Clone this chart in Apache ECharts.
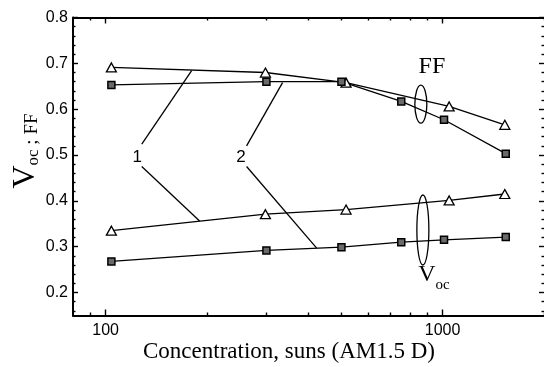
<!DOCTYPE html>
<html>
<head>
<meta charset="utf-8">
<script src="https://cdn.jsdelivr.net/npm/echarts@6/dist/echarts.min.js"></script>
<style>
  html, body { margin: 0; padding: 0; background: #fff; }
  #chart { width: 544px; height: 367px; }
</style>
</head>
<body>
<div id="chart"></div>
<script>
// Cell 1 (open triangles) and cell 2 (squares): concentration in suns
const conc1 = [104, 298, 517, 1046, 1530];
const ff1   = [0.691, 0.680, 0.658, 0.606, 0.566];
const voc1  = [0.335, 0.371, 0.381, 0.401, 0.415];

const conc2 = [104, 300, 501, 754, 1010, 1540];
const ff2   = [0.653, 0.660, 0.660, 0.617, 0.577, 0.503];
const voc2  = [0.268, 0.292, 0.299, 0.310, 0.315, 0.321];

// Axis ticks
const xMajor = [100, 1000];
const xMinor = [90, 200, 300, 400, 500, 600, 700, 800, 900, 2000];
const yMajor = [0.2, 0.3, 0.4, 0.5, 0.6, 0.7, 0.8];
const yMinor = [0.16, 0.18, 0.22, 0.24, 0.26, 0.28, 0.32, 0.34, 0.36, 0.38,
                0.42, 0.44, 0.46, 0.48, 0.52, 0.54, 0.56, 0.58, 0.62, 0.64,
                0.66, 0.68, 0.72, 0.74, 0.76, 0.78];

const pairs = (xs, ys) => xs.map((x, i) => [x, ys[i]]);

const sans = 'Liberation Sans, Arial, sans-serif';
const serif = 'Liberation Serif, Times New Roman, serif';

function xAxisDef(position, ticks, len, withLabels, showLine) {
  return {
    type: 'log', logBase: 10, min: 80, max: 2000, position: position,
    axisLine: { show: showLine, lineStyle: { color: '#000', width: 2 } },
    axisTick: { show: true, inside: true, length: len, customValues: ticks,
                lineStyle: { color: '#000', width: 1.4 } },
    axisLabel: withLabels
      ? { show: true, customValues: ticks, color: '#000', fontSize: 16,
          fontFamily: sans, margin: 7,
          formatter: v => String(v).replace(/,/g, '') }
      : { show: false },
    splitLine: { show: false }
  };
}

function yAxisDef(position, ticks, len, withLabels, showLine) {
  return {
    type: 'value', min: 0.15, max: 0.8, position: position,
    axisLine: { show: showLine, onZero: false, lineStyle: { color: '#000', width: 2 } },
    axisTick: { show: true, inside: true, length: len, customValues: ticks,
                lineStyle: { color: '#000', width: 1.4 } },
    axisLabel: withLabels
      ? { show: true, customValues: ticks, color: '#000', fontSize: 16,
          fontFamily: sans, margin: 5, formatter: v => v.toFixed(1) }
      : { show: false },
    splitLine: { show: false }
  };
}

const lineStyle = { color: '#000', width: 1.3 };
const triItem = { color: '#fff', borderColor: '#000', borderWidth: 1.3 };
const sqItem = { color: '#6a6a6a', borderColor: '#000', borderWidth: 1.5 };

const chart = echarts.init(document.getElementById('chart'), null, { renderer: 'canvas' });

chart.setOption({
  animation: false,
  backgroundColor: '#fff',
  grid: { left: 73, right: 0, top: 17.5, height: 298 },
  xAxis: [
    xAxisDef('bottom', xMajor, 6, true, true),
    xAxisDef('bottom', xMinor, 3, false, false),
    xAxisDef('top', xMajor, 6, false, true),
    xAxisDef('top', xMinor, 3, false, false)
  ],
  yAxis: [
    yAxisDef('left', yMajor, 5, true, true),
    yAxisDef('left', yMinor, 2.5, false, false),
    yAxisDef('right', yMajor, 5, false, false),
    yAxisDef('right', yMinor, 2.5, false, false)
  ],
  series: [
    { name: 'FF 1', type: 'line', data: pairs(conc1, ff1), symbol: 'triangle',
      symbolSize: [10, 9], itemStyle: triItem, lineStyle: lineStyle, z: 3 },
    { name: 'Voc 1', type: 'line', data: pairs(conc1, voc1), symbol: 'triangle',
      symbolSize: [10, 9], itemStyle: triItem, lineStyle: lineStyle, z: 3 },
    { name: 'FF 2', type: 'line', data: pairs(conc2, ff2), symbol: 'rect',
      symbolSize: 7, itemStyle: sqItem, lineStyle: lineStyle, z: 3 },
    { name: 'Voc 2', type: 'line', data: pairs(conc2, voc2), symbol: 'rect',
      symbolSize: 7, itemStyle: sqItem, lineStyle: lineStyle, z: 3 }
  ]
});

// Annotations anchored in data coordinates (concentration, value)
const leaders = [
  [[128, 0.524], [180, 0.684]],
  [[128, 0.475], [190, 0.356]],
  [[262, 0.520], [335, 0.658]],
  [[262, 0.475], [423, 0.297]]
];
const numberLabels = [
  { text: '1', at: [124, 0.496] },
  { text: '2', at: [252, 0.496] }
];
const ellipses = [
  { at: [862, 0.611], rx: 6, ry: 19 },
  { at: [874, 0.3365], rx: 6, ry: 35 }
];

const px = p => chart.convertToPixel({ xAxisIndex: 0, yAxisIndex: 0 }, p);

const graphics = [];
leaders.forEach(([a, b]) => {
  const pa = px(a), pb = px(b);
  graphics.push({ type: 'line', silent: true, z: 10,
    shape: { x1: pa[0], y1: pa[1], x2: pb[0], y2: pb[1] },
    style: { stroke: '#000', lineWidth: 1.3 } });
});
numberLabels.forEach(l => {
  const p = px(l.at);
  graphics.push({ type: 'text', silent: true, z: 10, x: p[0], y: p[1],
    style: { text: l.text, font: '17px ' + sans, fill: '#000',
             textAlign: 'center', textVerticalAlign: 'middle' } });
});
ellipses.forEach(e => {
  const p = px(e.at);
  graphics.push({ type: 'ellipse', silent: true, z: 10,
    shape: { cx: p[0], cy: p[1], rx: e.rx, ry: e.ry },
    style: { fill: 'transparent', stroke: '#000', lineWidth: 1.3 } });
});
const ffPos = px([930, 0.692]);
graphics.push({ type: 'text', silent: true, z: 10, x: ffPos[0], y: ffPos[1],
  style: { text: 'FF', font: '24px ' + serif, fill: '#000',
           textAlign: 'center', textVerticalAlign: 'middle' } });
const vocPos = px([847, 0.239]);
graphics.push({ type: 'text', silent: true, z: 10, x: vocPos[0], y: vocPos[1],
  style: { text: '{v|V}{s|oc}', fill: '#000', textAlign: 'left', textVerticalAlign: 'middle',
    rich: {
      v: { fontFamily: serif, fontSize: 24, verticalAlign: 'bottom' },
      s: { fontFamily: serif, fontSize: 15, verticalAlign: 'bottom', padding: [0, 0, -6, 0] }
    } } });

// Axis titles
graphics.push({ type: 'text', silent: true, x: 289, y: 352,
  style: { text: 'Concentration, suns (AM1.5 D)', font: '23px ' + serif, fill: '#000',
           textAlign: 'center', textVerticalAlign: 'middle' } });
graphics.push({ type: 'text', silent: true, x: 26, y: 151, rotation: Math.PI / 2,
  style: { text: '{v|V}{s|oc}{t| ; FF}', fill: '#000', textAlign: 'center', textVerticalAlign: 'middle',
    rich: {
      v: { fontFamily: serif, fontSize: 32, verticalAlign: 'bottom' },
      s: { fontFamily: serif, fontSize: 17, verticalAlign: 'bottom' },
      t: { fontFamily: serif, fontSize: 19, verticalAlign: 'bottom' }
    } } });

chart.setOption({ graphic: graphics });
</script>
</body>
</html>
